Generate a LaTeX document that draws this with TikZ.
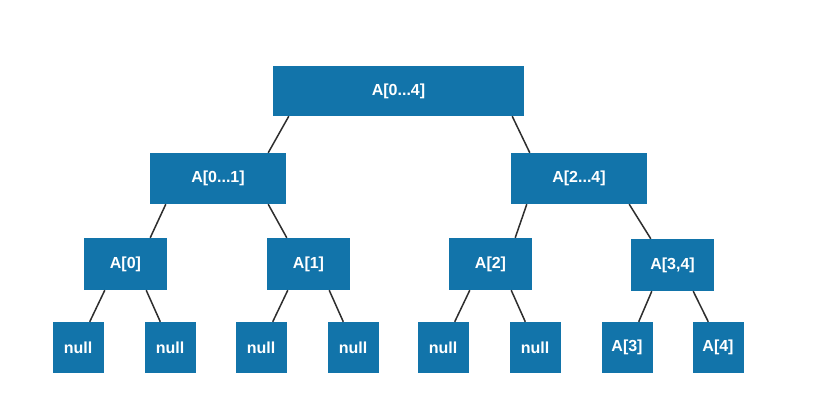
\documentclass[tikz,border=0pt]{standalone}
\usepackage{fontspec}
\setmainfont{Liberation Sans}
\definecolor{boxblue}{HTML}{1274AA}
\definecolor{edgegray}{HTML}{2E2E2E}
\begin{document}
\begin{tikzpicture}[x=1pt,y=-1pt,
  box/.style={fill=boxblue,draw=none,inner sep=0pt,text=white,font=\fontsize{16}{18}\selectfont\bfseries},
  edge/.style={draw=edgegray,line width=1.5pt}]
\useasboundingbox[fill=white] (0,0) rectangle (814,408);
% level 0
\node[box,minimum width=251pt,minimum height=50pt] (root) at (398.5,91) {A[0...4]};
% level 1
\node[box,minimum width=136pt,minimum height=51pt] (la) at (218,178.5) {A[0...1]};
\node[box,minimum width=136pt,minimum height=51pt] (lb) at (579,178.5) {A[2...4]};
% level 2
\node[box,minimum width=83pt,minimum height=52pt] (a0) at (125.5,264) {A[0]};
\node[box,minimum width=83pt,minimum height=52pt] (a1) at (308.5,264) {A[1]};
\node[box,minimum width=83pt,minimum height=52pt] (a2) at (490.5,264) {A[2]};
\node[box,minimum width=83pt,minimum height=52pt] (a34) at (672.5,265) {A[3,4]};
% level 3
\foreach \n/\x/\t in {n1/78/null,n2/170/null,n3/261/null,n4/353/null,n5/443/null,n6/535/null,n7/627/A[3],n8/718/A[4]}{
  \node[box,minimum width=51pt,minimum height=51pt] (\n) at (\x,347.5) {\t};
}
% edges
\draw[edge] ([xshift=16pt]root.south west) -- ([xshift=-18pt]la.north east);
\draw[edge] ([xshift=-12pt]root.south east) -- ([xshift=19pt]lb.north west);
\draw[edge] ([xshift=16pt]la.south west) -- ([xshift=-17pt]a0.north east);
\draw[edge] ([xshift=-18pt]la.south east) -- ([xshift=20pt]a1.north west);
\draw[edge] ([xshift=16pt]lb.south west) -- ([xshift=-17pt]a2.north east);
\draw[edge] ([xshift=-18pt]lb.south east) -- ([xshift=20pt]a34.north west);
\foreach \p/\l/\r in {a0/n1/n2,a1/n3/n4,a2/n5/n6,a34/n7/n8}{
  \draw[edge] ([xshift=21pt]\p.south west) -- ([xshift=-14pt]\l.north east);
  \draw[edge] ([xshift=-21pt]\p.south east) -- ([xshift=16pt]\r.north west);
}
\end{tikzpicture}
\end{document}
